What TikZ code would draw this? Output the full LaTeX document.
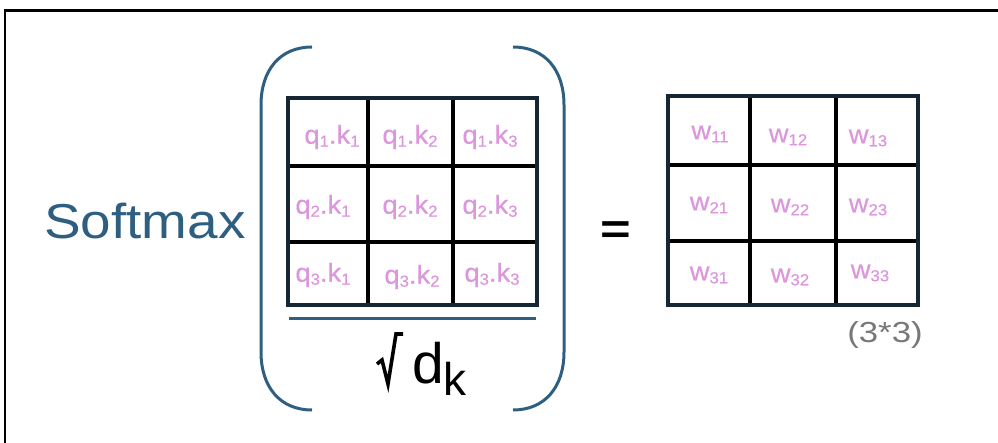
\documentclass[tikz,border=0pt]{standalone}
\usepackage{fontspec}
\setmainfont{Liberation Sans}
\newfontfamily\titlefont[FakeStretch=1.12]{Liberation Sans}
\newfontfamily\dimfont[FakeStretch=1.2]{Liberation Sans}
\newfontfamily\eqfont[FakeStretch=1.25]{Liberation Sans}
\newfontfamily\cellfont[FakeStretch=1.05,FakeBold=0.5]{Liberation Sans}

\definecolor{softblue}{RGB}{46,95,128}
\definecolor{cellpink}{RGB}{220,150,220}
\definecolor{gridnavy}{RGB}{22,38,52}
\definecolor{dimgray}{RGB}{120,120,120}

% lowered small index used inside the matrix cells
\newcommand\lowsub[1]{\raisebox{-3pt}{\fontsize{16}{16}\selectfont #1}}
\newcommand\qk[2]{q\lowsub{#1}.k\lowsub{#2}}
\newcommand\wij[1]{w\lowsub{#1}}

\begin{document}
\begin{tikzpicture}[x=1pt,y=-1pt,
  cell/.style={text=cellpink, font=\cellfont\fontsize{26}{26}\selectfont, inner sep=0pt},
  gridline/.style={line width=3.2pt, black},
  outerbox/.style={draw=gridnavy, line width=3.4pt, inner sep=0pt},
  bracket/.style={draw=softblue, line width=3pt}]
\useasboundingbox (0,0) rectangle (998,443);

% open frame: top and left edges only
\draw[line width=3pt] (4,10.5) -- (998,10.5);
\draw[line width=2pt] (5,9) -- (5,443);

% Softmax label
\node[anchor=base west, text=softblue, inner sep=0pt,
      font=\titlefont\fontsize{49}{49}\selectfont] (softmax) at (44,239) {Softmax};

% large round brackets
\draw[bracket] (312,47) .. controls (280,47) and (261,70) .. (261,105)
  -- (261,352) .. controls (261,387) and (280,410) .. (312,410);
\draw[bracket] (513,47) .. controls (545,47) and (564,70) .. (564,105)
  -- (564,352) .. controls (564,387) and (545,410) .. (513,410);

% score matrix Q.K^T
\draw[gridline] (368,98) -- (368,305);
\draw[gridline] (453,98) -- (453,305);
\draw[gridline] (288,166) -- (537,166);
\draw[gridline] (288,242) -- (537,242);
\node[outerbox, minimum width=249pt, minimum height=207pt] (qkbox) at (412.5,201.5) {};

\node[cell] (c11) at (332,137) {\qk{1}{1}};
\node[cell] (c12) at (410,137) {\qk{1}{2}};
\node[cell] (c13) at (490,137) {\qk{1}{3}};
\node[cell] (c21) at (323,207) {\qk{2}{1}};
\node[cell] (c22) at (410,207) {\qk{2}{2}};
\node[cell] (c23) at (490,207) {\qk{2}{3}};
\node[cell] (c31) at (323,275) {\qk{3}{1}};
\node[cell] (c32) at (412,277) {\qk{3}{2}};
\node[cell] (c33) at (492,275) {\qk{3}{3}};

% fraction bar and sqrt(d_k)
\draw[softblue, line width=3pt] (289,319) -- (536,319);
\draw[line width=3.6pt, line join=miter] (377,364) -- (382,360) -- (388,384) -- (396,334) -- (403,334);
\node[anchor=base west, inner sep=0pt, font=\fontsize{57}{57}\selectfont] (dsym) at (412,383) {d};
\node[anchor=base west, inner sep=0pt, font=\fontsize{46}{46}\selectfont] (ksym) at (443,395) {k};

% equals sign
\node[anchor=base, inner sep=0pt, font=\eqfont\bfseries\fontsize{42}{42}\selectfont] (eq) at (615.5,244) {=};

% weight matrix
\draw[gridline] (750,96) -- (750,305);
\draw[gridline] (836,96) -- (836,305);
\draw[gridline] (668,165) -- (918,165);
\draw[gridline] (668,241) -- (918,241);
\node[outerbox, minimum width=250pt, minimum height=209pt] (wbox) at (793,200.5) {};

\node[cell] (w11) at (710,134) {\wij{11}};
\node[cell] (w12) at (788,137) {\wij{12}};
\node[cell] (w13) at (868,138) {\wij{13}};
\node[cell] (w21) at (709,205) {\wij{21}};
\node[cell] (w22) at (790,207) {\wij{22}};
\node[cell] (w23) at (868,207) {\wij{23}};
\node[cell] (w31) at (709,275) {\wij{31}};
\node[cell] (w32) at (790,277) {\wij{32}};
\node[cell] (w33) at (870,273) {\wij{33}};

% matrix shape
\node[anchor=base, inner sep=0pt, text=dimgray, font=\dimfont\fontsize{29}{29}\selectfont] (shape) at (885,343) {(3*3)};
\end{tikzpicture}
\end{document}
